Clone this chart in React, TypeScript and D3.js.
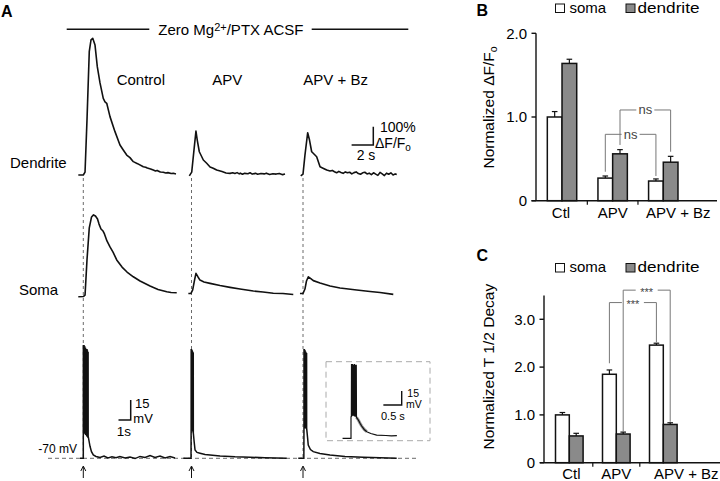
import React from 'react';
import * as d3 from 'd3';

type P = [number, number];
type S = [number, number, number];

// ---------- bar chart data ----------
const categories = ['Ctl', 'APV', 'APV + Bz'];
const ampSoma = [1.0, 0.27, 0.235];
const ampSomaErr = [0.065, 0.025, 0.025];
const ampDend = [1.64, 0.56, 0.46];
const ampDendErr = [0.05, 0.05, 0.07];
const ampTicks = [0, 1, 2];
const decaySoma = [1.0, 1.85, 2.46];
const decaySomaErr = [0.05, 0.09, 0.04];
const decayDend = [0.56, 0.6, 0.8];
const decayDendErr = [0.055, 0.04, 0.035];
const decayTicks = [0, 1, 2, 3];
const legendLabels = ['soma', 'dendrite'];

// brackets: [cat1, series1, cat2, series2, top, leftBottom, rightBottom, label]
const ampBrackets: [string, number, string, number, number, number, number, string][] = [
  ['APV', 1, 'APV + Bz', 1, 1.084, 0.666, 0.585, 'ns'],
  ['APV', 0, 'APV + Bz', 0, 0.793, 0.346, 0.295, 'ns'],
];
const decayBrackets: [string, number, string, number, number, number, number, string][] = [
  ['APV', 1, 'APV + Bz', 1, 3.61, 0.645, 0.855, '***'],
  ['APV', 0, 'APV + Bz', 0, 3.35, 2.08, 2.52, '***'],
];

// ---------- panel A traces ----------
const conditions = ['Control', 'APV', 'APV + Bz'];
// calcium traces: [time (s), ΔF/F (%)]
const dendControl: P[] = [[-0.46, 0], [0, 0], [0.16, 16], [0.34, 300], [0.55, 674], [0.71, 738], [0.87, 747], [1.08, 710], [1.29, 592], [1.54, 503], [1.84, 419], [2.0, 400], [2.16, 392], [2.46, 319], [2.92, 237], [3.38, 164], [3.7, 135], [4.0, 109], [4.3, 95], [4.61, 73], [5.0, 62], [5.53, 45], [5.75, 42], [5.9, 38], [6.2, 33], [6.45, 27], [6.65, 22], [6.8, 25], [7.1, 16], [7.37, 15], [7.6, 11], [7.8, 13], [8.1, 8], [8.3, 9], [8.54, 5]];
const dendAPV: P[] = [[-0.2, -5], [0.02, 16], [0.23, 137], [0.41, 240], [0.53, 191], [0.72, 127], [1.09, 82], [1.4, 64], [1.71, 44], [2.0, 37], [2.32, 27], [2.81, 19], [3.18, 11], [3.55, 9], [3.8, 12], [4.0, 8], [4.2, 13], [4.4, 6], [4.5, 10], [4.7, 4], [4.9, 9], [5.2, 7], [5.4, 12], [5.6, 5], [5.9, 9], [6.1, 4], [6.4, 8], [6.7, 6], [6.9, 10], [7.2, 3], [7.5, 7], [7.8, 5], [8.1, 8], [8.4, 2], [8.62, 5]];
const dendBz: P[] = [[-0.21, -5], [0, 5], [0.18, 109], [0.43, 231], [0.6, 191], [0.8, 127], [0.92, 120], [1.26, 100], [1.57, 45], [1.89, 36], [2.19, 27], [2.49, 22], [2.7, 25], [2.9, 18], [3.1, 12], [3.3, 20], [3.5, 14], [3.7, 9], [3.9, 17], [4.1, 12], [4.3, 15], [4.5, 6], [4.7, 13], [4.9, 17], [5.1, 8], [5.3, 4], [5.5, 12], [5.7, 15], [5.9, 6], [6.1, 10], [6.3, 2], [6.5, 12], [6.7, 5], [6.9, -2], [7.1, 14], [7.3, 6], [7.5, -3], [7.7, 10], [7.9, 4], [8.1, 12], [8.3, 0], [8.5, 6], [8.64, 3]];
const somaControl: P[] = [[-0.46, -4], [0, -3], [0.16, 5], [0.34, 197], [0.55, 372], [0.76, 432], [0.94, 443], [1.12, 437], [1.31, 421], [1.45, 393], [1.63, 366], [1.82, 355], [1.95, 339], [2.18, 301], [2.46, 268], [2.74, 240], [3.08, 197], [3.57, 158], [4.03, 131], [4.61, 105], [5.23, 82], [6.15, 55], [6.89, 36], [7.69, 23], [8.09, 19], [8.61, 18]];
const somaAPV: P[] = [[-0.29, 14], [-0.05, 14], [0.11, 33], [0.28, 87], [0.41, 124], [0.6, 104], [0.78, 87], [1.15, 77], [1.71, 69], [2.63, 57], [3.55, 47], [4.47, 38], [5.7, 27], [6.59, 22], [7.54, 15], [8.43, 14], [9.38, 8]];
const somaBz: P[] = [[-0.28, 14], [0, 14], [0.18, 38], [0.32, 82], [0.49, 105], [0.69, 96], [0.95, 84], [1.57, 71], [2.49, 55], [3.41, 44], [4.95, 33], [6.18, 25], [7.1, 19], [8.32, 9]];

// membrane potential: [time (s), mV]; spikes: [time, peak mV, trough mV]
const vmControlPre: P[] = [[-0.27, -70], [-0.02, -70], [0, -70]];
const vmControlSpikes: S[] = [[0.0, 15, -48], [0.03, 14, -50], [0.06, 15, -50], [0.09, 13, -51], [0.12, 14, -51], [0.15, 12, -51], [0.18, 13, -52], [0.21, 12, -52], [0.24, 12, -52], [0.27, 11, -53], [0.3, 12, -53], [0.33, 11, -53], [0.36, 10, -54], [0.39, 10, -54]];
const vmControlPost: P[] = [[0.41, -54], [0.55, -61], [0.67, -65], [0.82, -67.5], [1.04, -68.6], [1.37, -69.4], [1.7, -68.3], [2.02, -69.8], [2.35, -68.9], [2.68, -69.6], [3.0, -68.6], [3.43, -69.8], [3.83, -69], [4.24, -70.2], [4.65, -68.6], [5.06, -69.4], [5.47, -67.9], [5.88, -69.4], [6.29, -68.3], [6.7, -69.8], [7.11, -68.6], [7.52, -69.8]];
const vmAPVPre: P[] = [[-0.67, -70], [-0.08, -70], [-0.04, -70]];
const vmAPVSpikes: S[] = [[-0.03, 12, -47], [0.0, 12, -47], [0.03, 11, -48], [0.06, 11, -48], [0.09, 10, -49], [0.12, 10, -50], [0.14, 9, -51]];
const vmAPVPost: P[] = [[0.15, -51], [0.22, -57.8], [0.29, -63.8], [0.45, -65.6], [0.7, -66.2], [1.11, -67.1], [1.52, -67.5], [2.34, -68.3], [3.57, -68.9], [4.8, -69.2], [6.02, -69.6], [7.8, -70]];
const vmBzPre: P[] = [[-0.39, -70], [0, -70], [0.07, -70]];
const vmBzSpikes: S[] = [[0.08, 12, -46], [0.11, 12, -46], [0.14, 11, -46], [0.17, 11, -47], [0.2, 10, -47], [0.23, 10, -47], [0.26, 9, -47], [0.29, 9, -48]];
const vmBzPost: P[] = [[0.3, -47.5], [0.37, -54], [0.43, -60], [0.61, -63.4], [0.84, -65], [1.39, -66.4], [2.21, -67.5], [3.44, -68.6], [4.94, -69.2], [6.31, -69.6], [7.68, -70]];
const vmInsetPre: P[] = [[-0.23, -70], [0, -70], [0, -47]];
const vmInsetSpikes: S[] = [[0.01, 10, -46], [0.04, 10, -45], [0.07, 9, -45], [0.09, 10, -46], [0.12, 9, -46], [0.14, 9, -47]];
const vmInsetPost: P[] = [[0.15, -47.6], [0.2, -50.3], [0.25, -54], [0.29, -56.8], [0.36, -60.5], [0.43, -62.9], [0.54, -64.8], [0.7, -66.5], [0.95, -67], [1.1, -67.3], [1.25, -67.2]];

// ---------- layout ----------
const FONT = '"Liberation Sans", Arial, Helvetica, sans-serif';
const colX0 = [83.3, 191.5, 303];
const IMG_PX_S = 10.85;
const IMG_PX_PCT = 0.183;
const DEND_Y0 = 175;
const SOMA_Y0 = 296;
const VM_PX_S = 12.2;
const VM_PX_MV = 1.333;
const VM_Y0 = 458.3;

const imgX = (c: number) => d3.scaleLinear().domain([0, 1]).range([colX0[c], colX0[c] + IMG_PX_S]);
const imgY = (y0: number) => d3.scaleLinear().domain([0, 100]).range([y0, y0 - 100 * IMG_PX_PCT]);
const vmX = (x0: number, pxs: number) => d3.scaleLinear().domain([0, 1]).range([x0, x0 + pxs]);
const vmY = (y0: number, pxmv: number) => d3.scaleLinear().domain([-70, -55]).range([y0, y0 - 15 * pxmv]);

function lineD(pts: P[], sx: d3.ScaleLinear<number, number>, sy: d3.ScaleLinear<number, number>) {
  return d3.line<P>().x((d) => sx(d[0])).y((d) => sy(d[1]))(pts) || '';
}
function vmPoints(pre: P[], spikes: S[], post: P[]): P[] {
  const mid: P[] = [];
  spikes.forEach(([t, pk, tr]) => {
    mid.push([t, tr], [t + 0.004, pk], [t + 0.009, tr]);
  });
  return [...pre, ...mid, ...post];
}

type BarCfg = {
  xs: d3.ScaleBand<string>;
  ys: d3.ScaleLinear<number, number>;
  soma: number[]; somaErr: number[]; dend: number[]; dendErr: number[];
  ticks: number[]; barW: number; axisX: number; axisTopV: number;
  xStart: number; xEnd: number; brackets: typeof ampBrackets;
  catY: number; catDx: number[]; legendY: number; titleY: number; title: React.ReactNode;
  letter: string; letterY: number;
};

function Bars(cfg: BarCfg) {
  const { xs, ys, barW } = cfg;
  const half = xs.bandwidth() / 2;
  const barX = (c: string, s: number) => (xs(c) as number) + half - (s === 0 ? barW : 0);
  const barC = (c: string, s: number) => barX(c, s) + barW / 2;
  const series = [
    { vals: cfg.soma, errs: cfg.somaErr, fill: '#ffffff' },
    { vals: cfg.dend, errs: cfg.dendErr, fill: '#8a8a8a' },
  ];
  const y0 = ys(0);
  return (
    <g>
      <text x={476.5} y={cfg.letterY} fontSize={16} fontWeight="bold" fontFamily={FONT}>{cfg.letter}</text>
      {/* legend */}
      <rect x={555.5} y={cfg.legendY - 8.5} width={9} height={8.5} fill="#fff" stroke="#111" strokeWidth={1} />
      <text x={569.5} y={cfg.legendY} fontSize={15} fontFamily={FONT}>{legendLabels[0]}</text>
      <rect x={626} y={cfg.legendY - 8.5} width={9} height={8.5} fill="#8a8a8a" stroke="#111" strokeWidth={1} />
      <text x={637.5} y={cfg.legendY} fontSize={15} fontFamily={FONT} textLength={62} lengthAdjust="spacingAndGlyphs">{legendLabels[1]}</text>
      {/* axis title */}
      <text transform={`translate(494,${cfg.titleY}) rotate(-90)`} textAnchor="middle" fontSize={15.5} fontFamily={FONT}>{cfg.title}</text>
      {/* y axis */}
      <line x1={cfg.axisX} x2={cfg.axisX} y1={y0} y2={ys(cfg.axisTopV)} stroke="#111" strokeWidth={1.4} />
      {cfg.ticks.map((t) => (
        <g key={t}>
          <line x1={cfg.axisX - 4.5} x2={cfg.axisX} y1={ys(t)} y2={ys(t)} stroke="#111" strokeWidth={1.4} />
          <text x={cfg.axisX - 9} y={ys(t) + 5.3} textAnchor="end" fontSize={15} fontFamily={FONT}>{t === 0 ? '0' : t.toFixed(1)}</text>
        </g>
      ))}
      {/* x axis */}
      <line x1={cfg.xStart} x2={cfg.xEnd} y1={y0} y2={y0} stroke="#111" strokeWidth={1.4} />
      {categories.slice(1).map((c) => (
        <line key={c} x1={xs(c) as number} x2={xs(c) as number} y1={y0} y2={y0 + 4} stroke="#111" strokeWidth={1.2} />
      ))}
      {categories.map((c, i) => (
        <text key={c} x={(xs(c) as number) + half + cfg.catDx[i]} y={cfg.catY} textAnchor="middle" fontSize={15} fontFamily={FONT}>{c}</text>
      ))}
      {/* bars */}
      {series.map((s, si) =>
        categories.map((c, i) => (
          <g key={`${si}-${c}`}>
            <line x1={barC(c, si)} x2={barC(c, si)} y1={ys(s.vals[i])} y2={ys(s.vals[i] + s.errs[i])} stroke="#111" strokeWidth={1.2} />
            <line x1={barC(c, si) - 2.8} x2={barC(c, si) + 2.8} y1={ys(s.vals[i] + s.errs[i])} y2={ys(s.vals[i] + s.errs[i])} stroke="#111" strokeWidth={1.2} />
            <rect x={barX(c, si)} y={ys(s.vals[i])} width={barW} height={y0 - ys(s.vals[i])} fill={s.fill} stroke="#111" strokeWidth={1.5} />
          </g>
        ))
      )}
      {/* significance brackets */}
      {cfg.brackets.map(([c1, s1, c2, s2, top, lb, rb, lab], k) => {
        const xa = barC(c1, s1);
        const xb = barC(c2, s2);
        const yt = ys(top);
        const mid = (xa + xb) / 2;
        const gap = lab === 'ns' ? 9 : 11;
        return (
          <g key={k}>
            <path d={`M${xa},${ys(lb)}V${yt}H${mid - gap}M${mid + gap},${yt}H${xb}V${ys(rb)}`} stroke="#777" strokeWidth={1} fill="none" />
            <text x={mid} y={yt + (lab === 'ns' ? 4.5 : 5.5)} textAnchor="middle" fill="#444" fontSize={lab === 'ns' ? 13 : 11} fontFamily={FONT}>{lab}</text>
          </g>
        );
      })}
    </g>
  );
}

export default function App() {
  const xB = d3.scaleBand<string>().domain(categories).range([536.7, 688.6]);
  const yB = d3.scaleLinear().domain([0, 2]).range([200.7, 33.3]);
  const xC = d3.scaleBand<string>().domain(categories).range([545.8, 686.8]);
  const yC = d3.scaleLinear().domain([0, 3.5]).range([462.7, 295.4]);

  const dendData = [dendControl, dendAPV, dendBz];
  const somaData = [somaControl, somaAPV, somaBz];
  const vmData = [
    vmPoints(vmControlPre, vmControlSpikes, vmControlPost),
    vmPoints(vmAPVPre, vmAPVSpikes, vmAPVPost),
    vmPoints(vmBzPre, vmBzSpikes, vmBzPost),
  ];
  const vmYs = vmY(VM_Y0, VM_PX_MV);

  // inset scales
  const inX = vmX(351, 36.7);
  const inY = vmY(438.3, 0.93);

  // scale bars
  const sbImgX = imgX(0);
  const sbImgY = imgY(DEND_Y0);
  const imgBarW = sbImgX(2) - sbImgX(0);
  const imgBarH = sbImgY(0) - sbImgY(100);
  const vmBarW = vmX(0, VM_PX_S)(1) - vmX(0, VM_PX_S)(0);
  const vmBarH = vmYs(-70) - vmYs(-55);
  const inBarW = inX(0.5) - inX(0);
  const inBarH = inY(-70) - inY(-55);

  const tr = { fill: 'none', stroke: '#111', strokeWidth: 1.6, strokeLinejoin: 'round' as const };

  return (
    <svg width={720} height={481} style={{ position: 'absolute', left: 0, top: 0, background: '#fff' }} fontFamily={FONT}>
      <rect x={0} y={0} width={720} height={481} fill="#fff" />
      {/* ---------- Panel A ---------- */}
      <text x={1} y={17} fontSize={16} fontWeight="bold">A</text>
      <line x1={66.7} x2={149.3} y1={29.3} y2={29.3} stroke="#111" strokeWidth={1.4} />
      <text x={158.3} y={35} fontSize={15}>
        Zero Mg<tspan fontSize={11} dy={-4.5}>2+</tspan><tspan dy={4.5}>/PTX ACSF</tspan>
      </text>
      <line x1={311.7} x2={408.3} y1={29.3} y2={29.3} stroke="#111" strokeWidth={1.4} />
      {conditions.map((c, i) => (
        <text key={c} x={[116.7, 212.3, 303.3][i]} y={85} fontSize={15}>{c}</text>
      ))}
      <text x={10} y={168.3} fontSize={15}>Dendrite</text>
      <text x={19} y={295} fontSize={15}>Soma</text>
      <text x={38.3} y={453.3} fontSize={12}>-70 mV</text>

      {/* dashed guides */}
      {colX0.map((x) => (
        <line key={x} x1={x} x2={x} y1={178} y2={VM_Y0} stroke="#444" strokeWidth={0.8} strokeDasharray="3,3" />
      ))}
      <line x1={48} x2={417} y1={VM_Y0} y2={VM_Y0} stroke="#444" strokeWidth={0.8} strokeDasharray="4,3" />

      {/* calcium traces */}
      {dendData.map((d, i) => (
        <path key={`d${i}`} d={lineD(d, imgX(i), imgY(DEND_Y0))} {...tr} />
      ))}
      {somaData.map((d, i) => (
        <path key={`s${i}`} d={lineD(d, imgX(i), imgY(SOMA_Y0))} {...tr} />
      ))}
      {/* membrane potential */}
      {vmData.map((d, i) => (
        <path key={`v${i}`} d={lineD(d, vmX(colX0[i], VM_PX_S), vmYs)} fill="none" stroke="#111" strokeWidth={1.5} />
      ))}
      {/* arrows */}
      {colX0.map((x) => (
        <path key={`a${x}`} d={`M${x},478V467M${x - 2.5},471L${x},466L${x + 2.5},471`} fill="none" stroke="#111" strokeWidth={1} />
      ))}

      {/* imaging scale bar */}
      <path d={`M${373.3 - imgBarW},145H373.3V${145 - imgBarH}`} fill="none" stroke="#111" strokeWidth={1.5} />
      <text x={380} y={131.7} fontSize={14}>100%</text>
      <text x={375} y={148.3} fontSize={14}>ΔF/F<tspan fontSize={10} dy={3}>o</tspan></text>
      <text x={356.7} y={160} fontSize={14}>2 s</text>

      {/* Vm scale bar */}
      <path d={`M${130.7 - vmBarW},420H130.7V${420 - vmBarH}`} fill="none" stroke="#111" strokeWidth={1.5} />
      <text x={135} y={408} fontSize={13}>15</text>
      <text x={133.3} y={422.5} fontSize={13}>mV</text>
      <text x={116.7} y={435.5} fontSize={13.5}>1s</text>

      {/* inset */}
      <rect x={326} y={361.7} width={104} height={79} fill="none" stroke="#aaa" strokeWidth={1} strokeDasharray="6,4" />
      <path d={lineD(vmInsetPost.slice(0, 6), inX, inY)} fill="none" stroke="#999" strokeWidth={3} />
      <path d={lineD(vmPoints(vmInsetPre, vmInsetSpikes, vmInsetPost), inX, inY)} fill="none" stroke="#111" strokeWidth={1.2} />
      <path d={`M${401.7 - inBarW},405H401.7V${405 - inBarH}`} fill="none" stroke="#111" strokeWidth={1.4} />
      <text x={407.3} y={397} fontSize={10.5}>15</text>
      <text x={406} y={407.5} fontSize={10.5}>mV</text>
      <text x={381} y={420} fontSize={11}>0.5 s</text>

      {/* ---------- Panel B ---------- */}
      <Bars xs={xB} ys={yB} soma={ampSoma} somaErr={ampSomaErr} dend={ampDend} dendErr={ampDendErr}
        ticks={ampTicks} barW={14.7} axisX={536} axisTopV={2} xStart={531.5} xEnd={717}
        brackets={ampBrackets} catY={218} catDx={[-1, 0, 15]} legendY={12.5} titleY={107.5}
        title={<>Normalized ΔF/F<tspan fontSize={10.5} dy={3}>o</tspan></>}
        letter="B" letterY={16} />
      {/* ---------- Panel C ---------- */}
      <Bars xs={xC} ys={yC} soma={decaySoma} somaErr={decaySomaErr} dend={decayDend} dendErr={decayDendErr}
        ticks={decayTicks} barW={13.8} axisX={544} axisTopV={3.5} xStart={540} xEnd={720}
        brackets={decayBrackets} catY={478.5} catDx={[2, 0, 23]} legendY={272} titleY={366.7}
        title={<>Normalized T 1/2 Decay</>}
        letter="C" letterY={261} />
    </svg>
  );
}
